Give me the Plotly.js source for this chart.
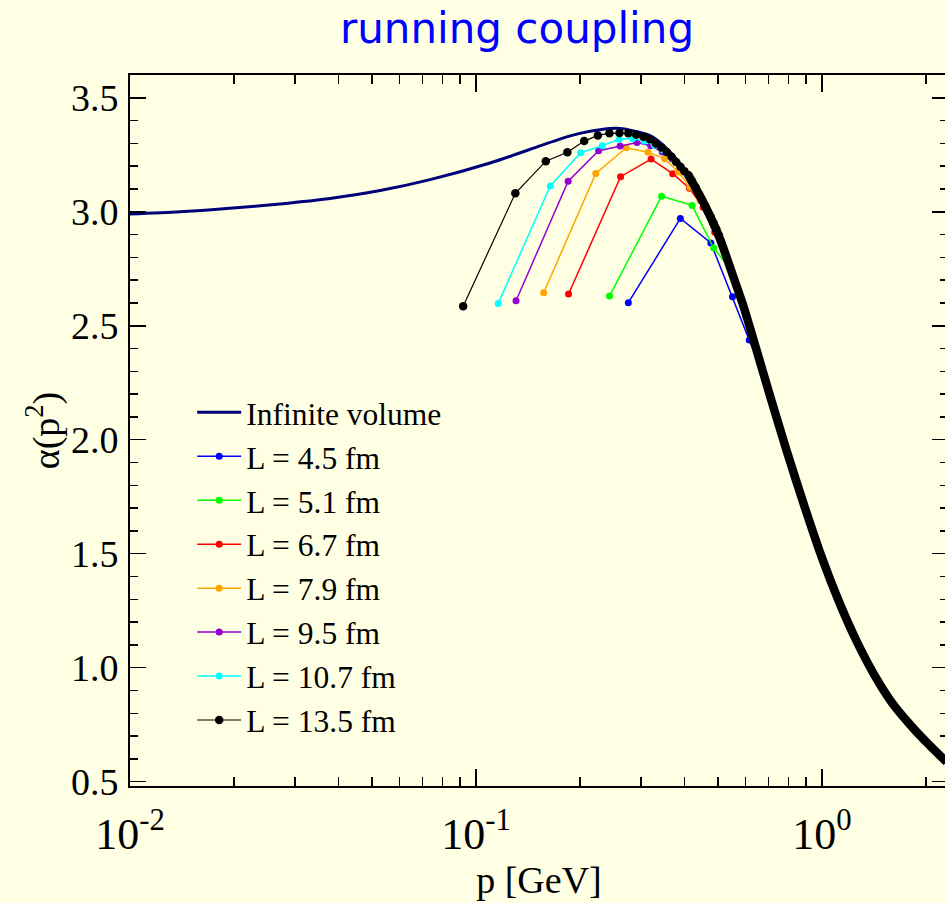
<!DOCTYPE html>
<html><head><meta charset="utf-8">
<script src="https://cdn.plot.ly/plotly-3.0.1.min.js"></script>
<style>html,body{margin:0;padding:0;overflow:hidden;background:#ffffe3}</style>
</head><body>
<div id="chart" style="width:948px;height:903px"></div>
<script>
// ---- data ----
const titleText = 'running coupling';
const xTickVals = [0.01, 0.1, 1];
const xTickText = ['10<sup>-2</sup>', '10<sup>-1</sup>', '10<sup>0</sup>'];
const xMinorVals = [0.02,0.03,0.04,0.05,0.06,0.07,0.08,0.09,0.2,0.3,0.4,0.5,0.6,0.7,0.8,0.9,2];

const seriesNames = ['Infinite volume','L = 4.5 fm','L = 5.1 fm','L = 6.7 fm','L = 7.9 fm','L = 9.5 fm','L = 10.7 fm','L = 13.5 fm'];

const pInf = [0.01,0.01395,0.01945,0.02714,0.03786,0.05281,0.07367,0.1098,0.1531,0.1747,0.1997,0.2282,0.2555,0.2786,0.3183,0.3517,0.3887,0.4107,0.4441,0.4746,0.5073,0.5533,0.5912,0.6194,0.7079,0.7943,0.8913,1.0,1.122,1.259,1.413,1.585,1.778,1.995,2.291];
const aInf = [2.990,3.000,3.015,3.034,3.058,3.093,3.141,3.214,3.289,3.319,3.344,3.360,3.366,3.358,3.334,3.285,3.212,3.163,3.069,2.981,2.880,2.718,2.591,2.490,2.191,1.941,1.704,1.481,1.286,1.116,0.971,0.851,0.758,0.676,0.586];

const pL45 = [0.2755,0.3896,0.4772,0.5510,0.6161,0.6749,0.7793,0.8713,1.102,1.378,1.653,1.929,2.204];
const aL45 = [2.601,2.971,2.863,2.627,2.437,2.298,1.982,1.750,1.316,1.002,0.817,0.700,0.611];

const pL51 = [0.2431,0.3438,0.4211,0.4862,0.5436,0.5955,0.6877,0.7293,0.9724,1.2156,1.4587,1.7018,1.9449,2.188];
const aL51 = [2.630,3.068,3.028,2.841,2.749,2.578,2.256,2.127,1.536,1.168,0.937,0.794,0.694,0.616];

const pL67 = [0.1851,0.2617,0.3205,0.3701,0.4138,0.4533,0.4896,0.5234,0.6410,0.7402,0.9253,1.1103,1.2954,1.4804,1.8505,2.2206];
const aL67 = [2.639,3.154,3.231,3.167,3.103,3.020,2.910,2.823,2.413,2.095,1.631,1.304,1.080,0.922,0.729,0.606];

const pL79 = [0.1569,0.2219,0.2718,0.3139,0.3509,0.3844,0.4152,0.4439,0.5437,0.6278,0.7847,0.9416,1.2555,1.5694,1.8833,2.1972];
const aL79 = [2.645,3.168,3.281,3.261,3.233,3.174,3.108,3.050,2.752,2.460,1.967,1.598,1.120,0.861,0.717,0.613];

const pL95 = [0.1305,0.1846,0.2261,0.2610,0.2918,0.3197,0.3453,0.3691,0.3915,0.4127,0.5220,0.6526,0.7831,1.0441,1.3051,1.5661,1.8271,2.2187];
const aL95 = [2.610,3.134,3.268,3.288,3.304,3.290,3.262,3.231,3.196,3.150,2.828,2.373,1.972,1.408,1.071,0.863,0.739,0.605];

const pL107 = [0.1159,0.1639,0.2007,0.2317,0.2591,0.2838,0.3066,0.3277,0.3476,0.3664,0.4635,0.5794,0.6952,0.9270,1.1587,1.3904,1.7381,2.2015];
const aL107 = [2.598,3.113,3.259,3.290,3.318,3.321,3.310,3.292,3.270,3.244,3.013,2.631,2.232,1.628,1.238,0.991,0.777,0.611];

const pL135 = [0.0918,0.1299,0.1591,0.1837,0.2054,0.2250,0.2430,0.2598,0.2755,0.2904,0.3046,0.3181,0.3311,0.3436,0.3557,0.3674,0.3787,0.3896,0.4003,0.4107,0.4209,0.4308,0.4404,0.4499,0.4592,0.4683,0.4772,0.4860,0.4946,0.5030];
const aL135 = [2.586,3.081,3.222,3.261,3.310,3.335,3.345,3.346,3.344,3.338,3.329,3.318,3.300,3.282,3.262,3.241,3.218,3.198,3.178,3.161,3.135,3.108,3.078,3.051,3.025,2.999,2.977,2.950,2.924,2.898];
// dense high-momentum part of the L = 13.5 fm data (its markers merge into a thick band)
const pL135dense = [0.4107,0.4441,0.4746,0.5073,0.5533,0.5912,0.6194,0.7079,0.7943,0.8913,1.0,1.122,1.259,1.413,1.585,1.778,1.995,2.291];
const aL135dense = [3.161,3.069,2.981,2.880,2.718,2.591,2.490,2.191,1.941,1.704,1.481,1.286,1.116,0.971,0.851,0.758,0.676,0.586];

const seriesColors = ['#00007a','#0000ff','#00ff00','#ff0000','#ffa500','#9400d3','#00ffff','#000000'];

// ---- traces ----
const latt = [[pL45,aL45],[pL51,aL51],[pL67,aL67],[pL79,aL79],[pL95,aL95],[pL107,aL107]];
const traces = [];
traces.push({x:pInf, y:aInf, name:seriesNames[0], mode:'lines', line:{color:seriesColors[0], width:3, shape:'spline', smoothing:0.8}});
latt.forEach((d,i)=>{
  traces.push({x:d[0], y:d[1], name:seriesNames[i+1], mode:'lines+markers',
    line:{color:seriesColors[i+1], width:1.5}, marker:{color:seriesColors[i+1], size:7}});
});
traces.push({x:pL135dense, y:aL135dense, name:seriesNames[7], legendgroup:'l135', showlegend:false,
  mode:'lines', line:{color:'#000000', width:8.5, shape:'spline', smoothing:0.8}});
traces.push({x:pL135, y:aL135, name:seriesNames[7], legendgroup:'l135', mode:'lines+markers',
  line:{color:'#000000', width:1.2}, marker:{color:'#000000', size:8.5}});

const serif = 'Liberation Serif, Times New Roman, serif';
const layout = {
  width:948, height:903,
  margin:{l:130, r:0, t:75, b:117},
  paper_bgcolor:'#ffffe3', plot_bgcolor:'#ffffe3',
  showlegend:true,
  title:{text:titleText, font:{family:'DejaVu Sans, sans-serif', size:42, color:'#0000ff'},
    x:517/948, xref:'container', xanchor:'center', y:1-28/903, yref:'container', yanchor:'middle'},
  xaxis:{type:'log', range:[-2,0.364], showgrid:false, zeroline:false,
    showline:true, linecolor:'#000', linewidth:2, mirror:'allticks',
    ticks:'inside', ticklen:17, tickwidth:1.5, tickcolor:'#000',
    tickmode:'array', tickvals:xTickVals, ticktext:xTickText, ticklabelstandoff:8,
    tickfont:{family:serif, size:44, color:'#000'},
    minor:{tickmode:'array', tickvals:xMinorVals, ticks:'inside', ticklen:9, tickwidth:1.5, tickcolor:'#000', showgrid:false},
    title:{text:'p [GeV]', font:{family:serif, size:38, color:'#000'}, standoff:0}},
  yaxis:{range:[0.481,3.6], showgrid:false, zeroline:false,
    showline:true, linecolor:'#000', linewidth:2, mirror:'allticks',
    ticks:'inside', ticklen:16, tickwidth:1.5, tickcolor:'#000',
    tick0:0.5, dtick:0.5, tickformat:'.1f', ticklabelstandoff:2,
    tickfont:{family:serif, size:38, color:'#000'},
    minor:{tick0:0.5, dtick:0.1, ticks:'inside', ticklen:8, tickwidth:1.5, tickcolor:'#000', showgrid:false},
    title:{text:'α(p<sup>2</sup>)', font:{family:serif, size:38, color:'#000'}, standoff:0}},
  legend:{x:0.076, y:0.5635, xanchor:'left', yanchor:'top', bgcolor:'rgba(0,0,0,0)',
    font:{family:serif, size:31.5, color:'#000'}, tracegroupgap:0, itemwidth:44}
};
Plotly.newPlot('chart', traces, layout, {staticPlot:true});
</script>
</body></html>
